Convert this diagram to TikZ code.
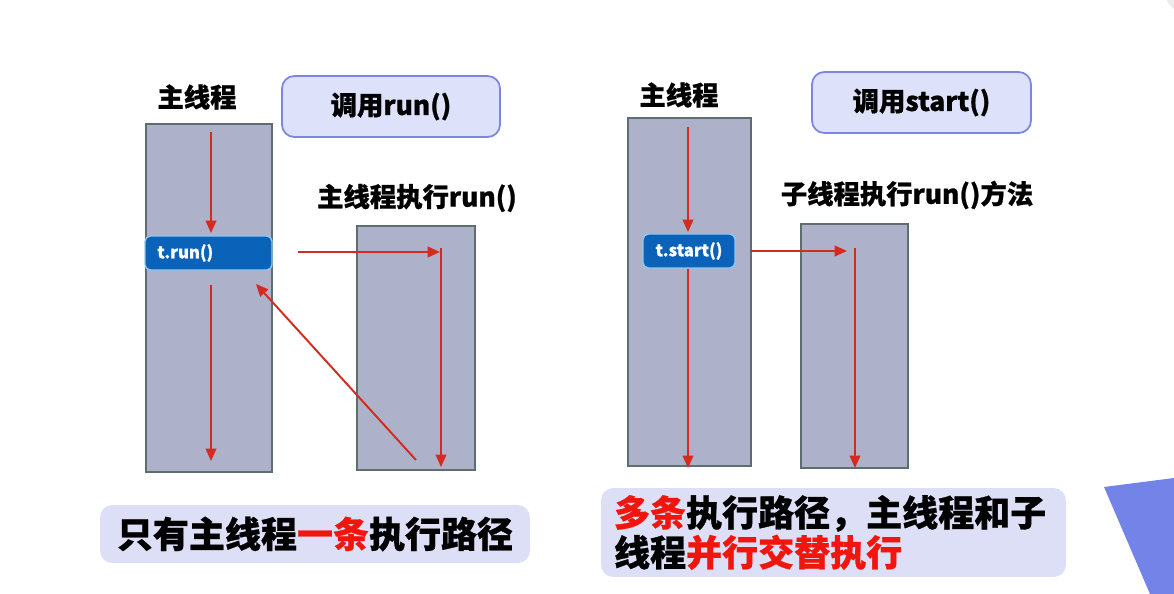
\documentclass[tikz,border=0pt]{standalone}
\usepackage{fontspec}
\setmainfont{Noto Sans CJK SC}[BoldFeatures={FakeBold=0.8}]
\usetikzlibrary{arrows.meta}
\definecolor{boxfill}{HTML}{ADB1C9}
\definecolor{boxline}{HTML}{5E6E6E}
\definecolor{arr}{HTML}{D42A1F}
\definecolor{callblue}{HTML}{0A63B8}
\definecolor{callline}{HTML}{8FC8F0}
\definecolor{topfill}{HTML}{DDE1F9}
\definecolor{topline}{HTML}{7C86E0}
\definecolor{botfill}{HTML}{DCDFF6}
\definecolor{hired}{HTML}{F0160E}
\definecolor{tri}{HTML}{7383E8}
\tikzset{
  thread/.style={draw=boxline, line width=1.2pt, fill=boxfill, inner sep=0pt},
  callnode/.style={draw=callline, line width=0.8pt, fill=callblue, rounded corners=3pt, text=white, font=\fontsize{9.5}{11}\selectfont\bfseries, inner sep=0pt},
  topbox/.style={draw=topline, line width=1pt, fill=topfill, rounded corners=7pt, font=\fontsize{15}{18}\selectfont\bfseries, inner sep=0pt},
  label/.style={font=\fontsize{15}{18}\selectfont\bfseries, inner sep=0pt},
  botbox/.style={fill=botfill, rounded corners=7pt, font=\fontsize{20.5}{23}\selectfont\bfseries, inner sep=0pt},
  flow/.style={draw=arr, line width=1.1pt, -{Triangle[length=7pt,width=6pt]}}
}
\begin{document}
\begin{tikzpicture}[x=0.02cm,y=-0.02cm]
\path[use as bounding box] (0,0) rectangle (1174,594);
\fill[gray!15] (1192,-12) circle (28);
\fill[tri] (1104,487) -- (1174,478) -- (1174,594) -- (1150,594) -- cycle;

% left part
\node[label] (lmain) at (197,97) {主线程};
\node[topbox, minimum width=4.36cm, minimum height=1.22cm] (callrun) at (391,106.5) {调用run()};
\node[thread, minimum width=2.52cm, minimum height=6.96cm] (b1) at (209,298) {};
\node[label] (lsub) at (417,198) {主线程执行run()};
\node[thread, minimum width=2.36cm, minimum height=4.88cm] (b2) at (416,348) {};
\node[callnode, minimum width=2.54cm, minimum height=0.68cm, text width=2.05cm, align=left] (trun) at (208.5,253) {t.run()};

\coordinate (a1s) at (211,132);
\coordinate (a1e) at (211,233);
\coordinate (a2s) at (211,285);
\coordinate (a2e) at (211,461);
\coordinate (h1s) at (298,252);
\coordinate (h1e) at (440,252);
\coordinate (v2s) at (441,248);
\coordinate (v2e) at (441,467);
\coordinate (d1s) at (416,460);
\coordinate (d1e) at (256,284);
\draw[flow] (a1s) -- (a1e);
\draw[flow] (a2s) -- (a2e);
\draw[flow] (h1s) -- (h1e);
\draw[flow] (v2s) -- (v2e);
\draw[flow] (d1s) -- (d1e);

\node[botbox, minimum width=8.6cm, minimum height=1.16cm] (lbot) at (315,534) {只有主线程\textcolor{hired}{一条}执行路径};

% right part
\node[label] (rmain) at (679,95) {主线程};
\node[topbox, minimum width=4.38cm, minimum height=1.22cm] (callstart) at (921.5,102.5) {调用start()};
\node[thread, minimum width=2.46cm, minimum height=6.96cm] (b3) at (689.5,292) {};
\node[label] (rsub) at (907,195) {子线程执行run()方法};
\node[thread, minimum width=2.14cm, minimum height=4.88cm] (b4) at (854.5,346) {};
\node[callnode, minimum width=1.84cm, minimum height=0.68cm] (tstart) at (689,251) {t.start()};

\coordinate (a3s) at (688,127);
\coordinate (a3e) at (688,232);
\coordinate (a4e) at (688,468);
\coordinate (h2s) at (751,251);
\coordinate (h2e) at (847,251);
\coordinate (v4s) at (855,248);
\coordinate (v4e) at (855,468);
\draw[flow] (a3s) -- (a3e);
\draw[flow] (tstart.south -| a3s) -- (a4e);
\draw[flow] (h2s) -- (h2e);
\draw[flow] (v4s) -- (v4e);

\node[botbox, minimum width=9.3cm, minimum height=1.78cm, text width=8.78cm, align=left, font=\fontsize{20.5}{22.7}\selectfont\bfseries] (rbot) at (833.5,532.5) {\textcolor{hired}{多条}执行路径，主线程和子\\线程\textcolor{hired}{并行交替执行}};
\end{tikzpicture}
\end{document}
